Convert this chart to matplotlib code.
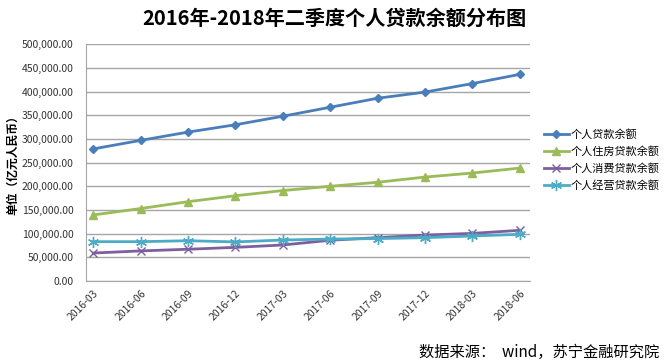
import numpy as np
import matplotlib.pyplot as plt
from matplotlib.ticker import FuncFormatter

plt.rcParams['font.family'] = ['Noto Sans CJK SC', 'DejaVu Sans']

quarters = ['2016-03', '2016-06', '2016-09', '2016-12', '2017-03',
            '2017-06', '2017-09', '2017-12', '2018-03', '2018-06']

# 亿元人民币
total_loans = [279000, 297000, 314500, 330000, 348000, 367000, 386000, 399000, 417000, 436500]
housing_loans = [139500, 153000, 167500, 180000, 191000, 200000, 208500, 219500, 228000, 238500]
consumer_loans = [59000, 63500, 67000, 71000, 76000, 86000, 91500, 97000, 100500, 107000]
business_loans = [83000, 83000, 85000, 82500, 86500, 88500, 89500, 91500, 95000, 98500]

series_names = ['个人贷款余额', '个人住房贷款余额', '个人消费贷款余额', '个人经营贷款余额']

fig = plt.figure(figsize=(6.68, 3.63), dpi=100)
ax = fig.add_axes([0.129, 0.226, 0.664, 0.652])

x = np.arange(len(quarters))
ax.plot(x, total_loans, color='#4A7EBB', lw=2, marker='D', ms=4.5, label=series_names[0])
ax.plot(x, housing_loans, color='#9BBB59', lw=2, marker='^', ms=6, label=series_names[1])
ax.plot(x, consumer_loans, color='#7D5FA0', lw=2, marker='x', ms=6, mew=1, label=series_names[2])
ax.plot(x, business_loans, color='#4BACC6', lw=2, marker=(6, 2, 0), ms=8, mew=1, label=series_names[3])

ax.set_ylim(0, 500000)
ax.set_yticks(np.arange(0, 500001, 50000))
ax.yaxis.set_major_formatter(FuncFormatter(lambda v, p: f'{v:,.2f}'))
ax.set_xlim(-0.15, 9.21)
ax.set_xticks(x)
ax.set_xticklabels(quarters, rotation=45, ha='right', rotation_mode='anchor')
ax.tick_params(axis='both', length=0, labelsize=7.5, colors='#333333')
ax.tick_params(axis='y', pad=9)
ax.tick_params(axis='x', pad=5)
ax.grid(axis='y', color='#A6A6A6', lw=1)
ax.set_axisbelow(True)
for s in ['top', 'right']:
    ax.spines[s].set_visible(False)
for s in ['left', 'bottom']:
    ax.spines[s].set_color('#A6A6A6')

ax.set_ylabel('单位（亿元人民币）', fontsize=8.5, fontweight='bold', labelpad=2)

fig.text(0.5, 0.95, '2016年-2018年二季度个人贷款余额分布图', ha='center', va='center',
         fontsize=14.5, fontweight='bold')

ax.legend(loc='center left', bbox_to_anchor=(1.01, 0.51), frameon=False,
          fontsize=8, handlelength=2.2, handletextpad=0.2, labelspacing=0.55)

fig.text(0.987, 0.03, '数据来源：  wind，苏宁金融研究院', ha='right', va='center',
         fontsize=11, style='italic')

fig.savefig('out.png', dpi=100)
